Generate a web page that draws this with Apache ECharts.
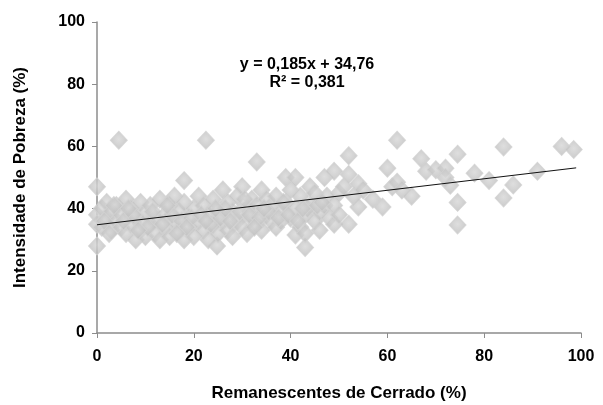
<!DOCTYPE html>
<html>
<head>
<meta charset="utf-8">
<script src="https://cdn.jsdelivr.net/npm/echarts@6/dist/echarts.min.js"></script>
<style>
  html, body { margin: 0; padding: 0; background: #fff; }
  #chart { width: 603px; height: 405px; }
</style>
</head>
<body>
<div id="chart"></div>
<script>
// remanescentes de cerrado (%) x intensidade de pobreza (%)
var remanescentes = [
    0, 0, 4.5, 22.5, 33, 18, 24.8, 43, 41,
    0, 0, 1, 1, 2, 2, 3, 3, 4, 4, 5, 5, 6, 6, 7, 7, 8, 8, 9, 9, 10, 10, 11, 11, 12, 12,
    13, 13, 14, 14, 15, 15, 16, 16, 17, 17, 18, 18, 19, 19, 20, 20, 21, 21, 22, 22, 23, 23, 24, 24, 25, 25,
    26, 26, 27, 27, 28, 28, 29, 29, 30, 30, 31, 31, 32, 32, 33, 33, 34, 34, 35, 35, 36, 36, 37, 37, 38, 38,
    39, 39, 40, 40, 41, 41, 42, 42, 43, 43, 44, 44, 45, 45, 46, 46, 47, 47, 48, 49, 49, 49, 50, 50,
    51, 52, 52, 52, 53, 54, 54, 55, 57, 59, 60, 61, 62, 62, 63, 65, 67, 68, 70, 72, 72, 73,
    74.5, 74.5, 74.5, 78, 81, 84, 84, 86, 91, 96, 98.5,
    // mais pontos no agrupamento denso
    1.5, 3.5, 5.5, 7.5, 9.5, 11.5, 13.5, 15.5, 17.5, 19.5, 21.5, 23.5, 25.5, 27.5, 29.5,
    31.5, 33.5, 35.5, 37.5, 39.5, 41.5, 43.5, 45.5, 47.5, 2.5, 6.5, 10.5, 14.5, 18.5, 22.5,
    26.5, 30.5, 34.5, 38.5, 42.5, 46.5, 8.5, 16.5, 24.5, 32.5
];
var pobreza = [
    47, 28, 62, 62, 55, 49, 28, 27.5, 31.5,
    38, 35, 40, 34, 42, 37, 33, 39, 41, 36, 34, 38, 43, 32, 40, 35, 30, 37, 42, 33, 39, 31, 35, 41, 37, 32,
    43, 30, 38, 34, 41, 31, 36, 44, 33, 39, 42, 30, 37, 34, 40, 31, 44, 36, 33, 41, 38, 30, 43, 35, 39, 32,
    46, 36, 42, 33, 39, 31, 44, 36, 47, 34, 40, 32, 43, 37, 35, 41, 46, 33, 38, 43, 36, 41, 34, 44, 39, 36,
    50, 42, 46, 37, 50, 40, 34, 44, 38, 32, 47, 41, 45, 36, 39, 33, 50, 41, 37, 52, 35, 41, 45, 38,
    47, 51, 57, 35, 44, 40.5, 48, 46, 43, 40.5, 53, 47, 62, 48.5, 46, 44, 56, 52, 52.5, 53, 50, 47.5,
    57.5, 42, 34.7, 51.4, 49, 59.8, 43.4, 47.6, 52, 60, 59,
    36, 41, 36, 38, 35, 39, 35, 38, 36, 37, 38, 35, 37, 36, 39,
    38, 37, 39, 37, 38, 36, 40, 41, 44, 32, 40, 34, 41, 34, 36,
    40, 43, 40, 42, 40, 42, 33, 32, 40, 34
];
// linha de tendencia y = 0,185x + 34,76
var tendX = [0, 99];
var tendY = [34.8, 53.1];

var pontos = [];
for (var i = 0; i < remanescentes.length; i++) {
    pontos.push([remanescentes[i], pobreza[i]]);
}
var tendencia = [];
for (var j = 0; j < tendX.length; j++) {
    tendencia.push([tendX[j], tendY[j]]);
}

var fonte = '"Liberation Sans", Arial, sans-serif';
var myChart = echarts.init(document.getElementById('chart'));
var option = {
    animation: false,
    backgroundColor: '#fff',
    grid: { left: 97, right: 22, top: 22, bottom: 72, containLabel: false, outerBoundsMode: 'none' },
    graphic: [
        {
            type: 'text', x: 307, y: 57,
            style: {
                text: 'y = 0,185x + 34,76', align: 'center',
                font: 'bold 16px ' + fonte, fill: '#000'
            }
        },
        {
            type: 'text', x: 307, y: 75,
            style: {
                text: 'R² = 0,381', align: 'center',
                font: 'bold 16px ' + fonte, fill: '#000'
            }
        }
    ],
    xAxis: {
        type: 'value', min: 0, max: 100, interval: 20,
        name: 'Remanescentes de Cerrado (%)',
        nameLocation: 'middle', nameGap: 52,
        nameTextStyle: { fontFamily: fonte, fontWeight: 'bold', fontSize: 17, color: '#000' },
        axisLine: { show: true, lineStyle: { color: '#8c8c8c', width: 1.5 } },
        axisTick: { show: true, inside: false, length: 5, lineStyle: { color: '#8c8c8c' } },
        axisLabel: { margin: 16, fontFamily: fonte, fontWeight: 'bold', fontSize: 16, color: '#000' },
        splitLine: { show: false }
    },
    yAxis: {
        type: 'value', min: 0, max: 100, interval: 20,
        name: 'Intensidade de Pobreza (%)',
        nameLocation: 'middle', nameGap: 68,
        nameTextStyle: { fontFamily: fonte, fontWeight: 'bold', fontSize: 17, color: '#000' },
        axisLine: { show: true, lineStyle: { color: '#8c8c8c', width: 1.5 } },
        axisTick: { show: true, inside: false, length: 5, lineStyle: { color: '#8c8c8c' } },
        axisLabel: { margin: 12, fontFamily: fonte, fontWeight: 'bold', fontSize: 16, color: '#000' },
        splitLine: { show: false }
    },
    series: [
        {
            type: 'scatter',
            symbol: 'diamond',
            symbolSize: [17, 18],
            data: pontos,
            itemStyle: {
                color: {
                    type: 'radial', x: 0.5, y: 0.45, r: 0.6,
                    colorStops: [
                        { offset: 0, color: '#d6d6d6' },
                        { offset: 1, color: '#bababa' }
                    ]
                },
                borderColor: '#d2d2d2',
                borderWidth: 1
            },
            z: 2
        },
        {
            type: 'line',
            data: tendencia,
            symbol: 'none',
            lineStyle: { color: '#111', width: 1 },
            z: 3
        }
    ]
};
myChart.setOption(option);
</script>
</body>
</html>
